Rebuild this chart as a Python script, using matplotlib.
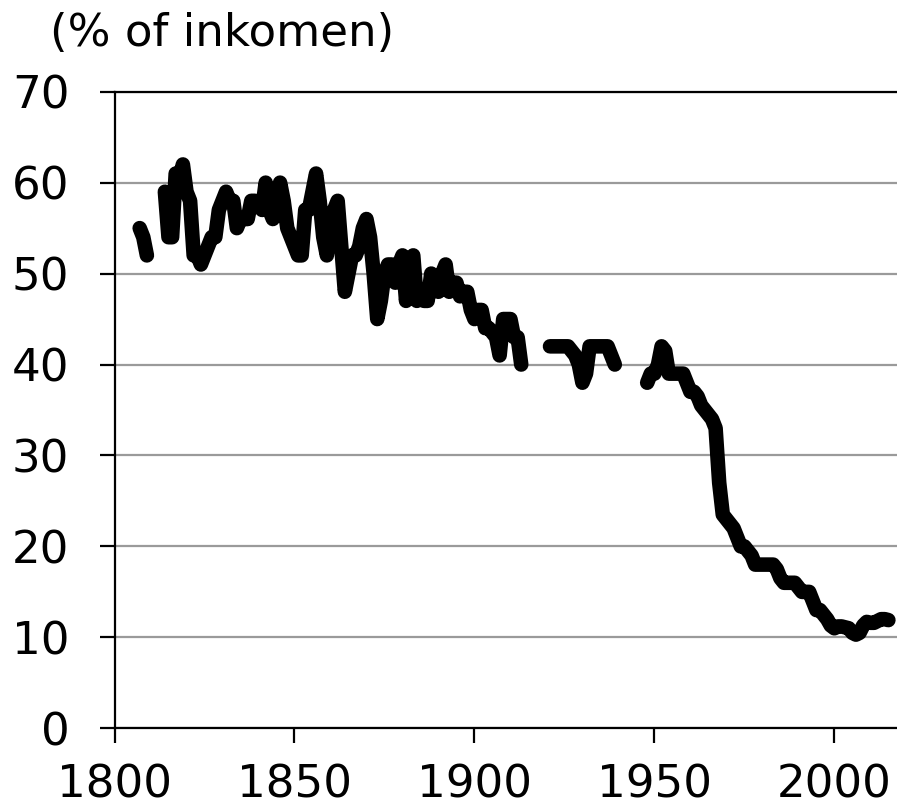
"""
    plot.py

    Share of income (%), 1800-2015, redrawn from reference picture.
"""

import numpy as np
import matplotlib.pyplot as plt

# data, one block per unbroken stretch of the line
years_a = [1807, 1808, 1809]
share_a = [55, 54, 52]

years_b = list(range(1814, 1914))
share_b = [59, 54, 54, 61, 60.5, 62, 59, 58, 52, 52,        # 1814-1823
           51, 52, 53, 54, 54, 57, 58, 59, 58, 58,          # 1824-1833
           55, 56, 56, 56, 58, 58, 57.5, 57, 60, 57,        # 1834-1843
           56, 58, 60, 58, 55, 54, 53, 52, 52, 57,          # 1844-1853
           57, 59, 61, 58, 54, 52, 55, 57, 58, 53,          # 1854-1863
           48, 50, 52, 52, 53, 55, 56, 54, 50, 45,          # 1864-1873
           47, 50, 51, 51, 49, 51, 52, 47, 51, 52,          # 1874-1883
           47, 48, 47, 47, 50, 49, 48, 50, 51, 48,          # 1884-1893
           49, 49, 47.5, 48, 48, 46, 45, 46, 46, 44,        # 1894-1903
           44, 43.5, 43, 41, 45, 45, 45, 43, 43, 40]        # 1904-1913

years_c = list(range(1921, 1940))
share_c = [42, 42, 42, 42, 42, 42, 41.5, 41, 40, 38,
           39, 42, 42, 42, 42, 42, 42, 41, 40]

years_d = list(range(1948, 2016))
share_d = [38, 39, 39, 40, 42, 41.5, 39, 39, 39, 39,          # 1948-1957
           39, 38, 37, 37, 36.5, 35.5, 35, 34.5, 34, 33,      # 1958-1967
           27, 23.5, 23, 22.5, 22, 21, 20, 20, 19.5, 19,      # 1968-1977
           18, 18, 18, 18, 18, 18, 17.5, 16.5, 16, 16,        # 1978-1987
           16, 16, 15.5, 15, 15, 15, 14, 13, 13, 12.5,        # 1988-1997
           12, 11.3, 11, 11.2, 11.2, 11.1, 11, 10.5, 10.3, 10.5,  # 1998-2007
           11.3, 11.7, 11.6, 11.6, 11.8, 12, 12, 11.9]        # 2008-2015

y_ticks = list(range(0, 71, 10))
x_ticks = [1800, 1850, 1900, 1950, 2000]
title = "(% of inkomen)"

FONT = 32.5

plt.rcParams['font.family'] = ['DejaVu Sans']

fig = plt.figure(figsize=(8.97, 8.08), dpi=100)
ax = fig.add_axes([114.5 / 897, (808 - 728.3) / 808,
                   1 - 114.5 / 897, (728.3 - 91.7) / 808])

# join the stretches with NaN so the gaps stay open
nan = [np.nan]
years = years_a + nan + years_b + nan + years_c + nan + years_d
share = share_a + nan + share_b + nan + share_c + nan + share_d
ax.plot(years, share, color='black', lw=10.5,
        solid_capstyle='round', solid_joinstyle='round', zorder=3)

ax.set_xlim(1800, 2017.4)
ax.set_ylim(0, 70)
ax.set_xticks(x_ticks)
ax.set_yticks(y_ticks)
ax.yaxis.grid(True, color='#9a9a9a', lw=1.6)
ax.set_axisbelow(True)

for side in ['left', 'bottom', 'top']:
    ax.spines[side].set_linewidth(1.6)
    ax.spines[side].set_color('black')
ax.spines['right'].set_visible(False)

ax.tick_params(axis='both', direction='out', length=11, width=1.6,
               labelsize=FONT, colors='black')
ax.tick_params(axis='y', pad=21.5)
ax.tick_params(axis='x', pad=14)

fig.text(50 / 897, 1 - 46 / 808, title, fontsize=FONT,
         ha='left', va='baseline')

fig.savefig("out.png", dpi=100)
